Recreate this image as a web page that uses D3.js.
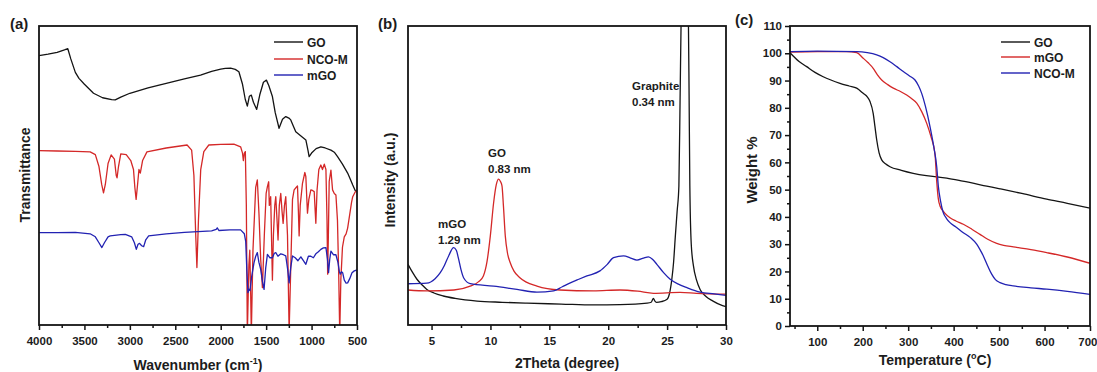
<!DOCTYPE html>
<html>
<head>
<meta charset="utf-8">
<script src="https://cdn.jsdelivr.net/npm/d3@7"></script>
<style>
  body { margin: 0; background: #fff; }
  svg { display: block; }
</style>
</head>
<body>
<div id="chart"></div>
<script>
// ---- (a) FTIR, transmittance in arbitrary units ----
const ftirTicks = [4000, 3500, 3000, 2500, 2000, 1500, 1000, 500];
const ftirMinor = [3750, 3250, 2750, 2250, 1750, 1250, 750];
const ftirGO = [[4000,90.1],[3900,90.6],[3800,91.2],[3720,92.0],[3683,92.4],[3650,89],[3600,84.5],[3560,82.5],[3500,80.5],[3400,77.5],[3300,76.0],[3200,75.4],[3161,75.3],[3100,76.2],[3000,77.5],[2800,79.3],[2600,80.8],[2400,82.3],[2222,83.6],[2100,84.8],[2000,85.6],[1950,85.8],[1891,85.9],[1840,85.5],[1800,84.7],[1760,80.5],[1730,75.5],[1707,73.2],[1685,76.5],[1663,76.9],[1640,74.5],[1604,72.1],[1570,77],[1530,81.2],[1497,81.9],[1470,80],[1431,76.4],[1400,71],[1358,65.8],[1320,68.8],[1284,69.7],[1250,69.2],[1229,68.6],[1200,66.5],[1174,64.6],[1100,62.8],[1063,61.9],[1040,58.5],[1027,56.3],[1000,57.5],[950,59],[898,59.6],[850,59.2],[787,58.5],[750,57.8],[714,56.3],[660,53.8],[603,50.8],[570,48.5],[547,46.8],[520,45],[500,44.5]];
const ftirNCO = [[4000,58.3],[3800,58.2],[3600,58.1],[3437,57.9],[3380,57],[3340,53],[3310,47],[3290,44.2],[3270,47],[3240,54],[3206,56.9],[3170,55.5],[3150,50],[3141,49.2],[3125,53],[3100,57.2],[3040,57],[2990,55],[2960,52],[2945,46],[2931,42],[2915,47],[2900,52],[2885,50.8],[2860,55],[2812,57.9],[2600,59.2],[2370,60.2],[2320,58.5],[2295,50],[2275,30],[2262,19.2],[2245,35],[2220,52],[2186,58],[2131,60.2],[2000,60.4],[1855,60.5],[1781,59.6],[1760,57.5],[1751,55],[1740,57.5],[1729,58],[1718,40],[1707,-3],[1690,20],[1680,25],[1670,10],[1663,-3],[1645,25],[1615,46],[1597,48.5],[1579,37.3],[1560,22],[1541,12.5],[1520,30],[1500,44],[1486,46.3],[1472,47.9],[1465,40],[1450,42.9],[1440,28],[1431,15],[1420,30],[1405,40],[1394,42.9],[1380,35],[1369,28.4],[1355,40],[1339,44],[1325,38],[1313,34],[1298,40],[1284,42.9],[1265,30],[1247,-2],[1230,18],[1210,42],[1192,45.2],[1170,46],[1155,46.5],[1145,38],[1137,29.8],[1125,40],[1100,47.4],[1074,51],[1063,49.6],[1052,42],[1045,37.4],[1030,42],[1008,45.2],[990,45],[971,44.6],[960,38],[953,34],[940,45],[920,52],[898,53.5],[880,52],[860,53.8],[842,52],[830,35],[823,17],[815,30],[806,48],[787,51.8],[769,45.2],[750,44],[732,43.5],[715,35],[700,15],[690,-3],[678,15],[660,26],[640,29.5],[620,30.5],[603,32.4],[580,37],[560,41],[547,42.9],[520,44.5],[500,45]];
const ftirMGO = [[4000,30.9],[3800,30.9],[3600,31.0],[3437,30.5],[3380,29.5],[3340,27.5],[3308,25.9],[3280,27.5],[3240,29.5],[3216,29.8],[3100,30.2],[3050,30.3],[2980,29.5],[2950,27.5],[2929,25.3],[2910,27],[2893,27.3],[2870,26.5],[2848,26.2],[2825,28.5],[2793,29.8],[2600,30.5],[2400,31],[2200,31.3],[2100,31.5],[2050,32],[2038,32.5],[2020,31.6],[1900,31.8],[1781,31.8],[1740,30.5],[1725,28],[1712,18],[1700,10.8],[1690,12],[1678,11.5],[1660,16],[1634,20.8],[1615,23],[1597,24.2],[1580,21],[1560,18.6],[1540,14.5],[1523,11.9],[1505,19],[1486,23.6],[1460,22.5],[1431,22.5],[1410,24],[1394,24.2],[1370,23],[1339,23.8],[1310,23.5],[1284,23.1],[1265,19],[1247,14.1],[1230,19],[1210,23.1],[1180,22.5],[1150,21.5],[1118,22.8],[1090,21.5],[1063,20.3],[1035,23],[1008,23],[980,22.5],[953,23.8],[925,24.5],[898,25.3],[870,25.8],[842,25.9],[825,22],[813,17.5],[800,22],[787,24.7],[760,23.5],[732,23.5],[710,21],[695,18],[684,17],[670,17.8],[658,17.5],[640,15],[620,14],[603,14.1],[580,15.5],[555,17.5],[530,18.1],[500,18.4]];

// ---- (b) XRD, intensity in arbitrary units ----
const xrdTicks = [5, 10, 15, 20, 25, 30];
const xrdMinor = [7.5, 12.5, 17.5, 22.5, 27.5];
const xrdGraphite = [[3,20.3],[3.4,17.5],[3.76,15.3],[4.2,13.4],[4.6,11.9],[5.2,10.7],[6.0,9.7],[7,8.9],[8.86,8.0],[11,7.6],[13.1,7.3],[16,7.0],[18.75,6.7],[21,6.8],[23.3,7.3],[23.65,7.6],[23.84,8.9],[23.95,8.1],[24.1,7.6],[24.5,7.8],[25,8.6],[25.2,10.5],[25.4,15.3],[25.55,21],[25.7,29.8],[25.85,38],[26.0,46.5],[26.1,75],[26.2,105],[26.5,140],[26.8,105],[26.87,75],[26.93,46.5],[27.05,27],[27.24,19.7],[27.5,15],[27.8,11.9],[28.3,9.5],[28.9,8.0],[29.5,6.8],[30,6.1]];
const xrdGO = [[3,11.7],[4.6,11.4],[6.9,11.7],[8.28,13.0],[9.0,14.5],[9.4,16.4],[9.7,21],[9.99,29.8],[10.27,40.9],[10.5,47],[10.69,48.8],[10.85,48],[10.98,46.5],[11.1,40],[11.26,29.8],[11.45,24],[11.68,20.8],[12.0,18],[12.5,15.8],[13.95,13.0],[15.9,11.7],[18.75,11.4],[21,11.7],[22.5,11.3],[23.84,10.6],[26.1,10.9],[27.5,10.6],[30,10.3]];
const xrdMGO = [[3,13.8],[4.6,14],[5.3,15.5],[5.74,17.5],[6.1,20],[6.45,23.1],[6.87,25.9],[7.1,25],[7.3,22],[7.5,18.5],[7.72,15.8],[8.29,13.8],[10.27,13.0],[12.25,11.9],[13.95,11.0],[15.36,11.4],[16.1,12.8],[16.78,14.1],[17.5,15.3],[18.19,16.4],[19.3,18.1],[19.9,20.2],[20.45,22.5],[21.3,23.1],[21.9,22.4],[22.44,21.7],[23.0,22.4],[23.42,22.8],[23.8,21.8],[24.13,20.3],[24.7,17.5],[25.26,15.3],[26.0,13.6],[26.68,12.5],[27.8,11.0],[29,10.4],[30,9.9]];

// ---- (c) TGA, weight % vs temperature ----
const tgaXTicks = [100, 200, 300, 400, 500, 600, 700];
const tgaXMinor = [50, 150, 250, 350, 450, 550, 650];
const tgaYTicks = d3.range(0, 111, 10);
const tgaYMinor = d3.range(5, 110, 10);
const tgaGO = [[40,100.2],[60,97],[76.7,95.1],[95,93],[113,91.4],[130,90.2],[150,89],[170,88],[186.7,87.2],[201,85.3],[210,84],[216,82.3],[223,78],[227,73],[230.8,68.2],[236,63.5],[241.7,60.9],[250,59.5],[260,58.4],[285,57.1],[311,56],[340,55.1],[384.8,54.2],[420,53.1],[472.8,51.3],[502,50.3],[550,48.6],[604.7,46.5],[650,45],[700,43.2]];
const tgaMGO = [[40,100.4],[100,100.6],[164.7,100.6],[186.7,100.2],[201,98.2],[212,96.5],[223,94.5],[232,92.2],[241.7,90.2],[255,88.5],[267.3,87.2],[283,86],[296.7,84.7],[308,83.3],[318.8,81.7],[330,78.5],[340.8,74.3],[350,69.5],[359,63],[362.8,53],[366,47],[370,44],[380,41.5],[392,39.7],[405,38.5],[421.3,37.3],[440,35.5],[458,33.6],[475,31.8],[494.8,30.3],[510,29.6],[531.3,29],[570,28],[604.8,26.9],[650,25.3],[700,23]];
const tgaNCO = [[40,100.6],[100,100.8],[186.7,100.6],[210,100.2],[230.8,99.4],[245,98.4],[260,96.9],[275,95.1],[289.3,93.3],[303,91.7],[315,90.2],[323,88],[329.7,85.3],[338,80.5],[348,73.1],[356,66],[362.8,58.4],[366.3,51.3],[371,46],[377.3,41.5],[384,39.5],[392,37.9],[405,36.3],[421.3,34.2],[437,32.4],[450.7,30],[458,28],[465.3,25.7],[475,22],[483.7,19],[492,17],[502,15.9],[515,15.2],[531,14.7],[570,14],[604.8,13.5],[650,12.7],[700,11.6]];

const BLACK = '#141414';
const RED = '#d42828';
const BLUE = '#2222b2';
const FONT = "'Liberation Sans', Arial, sans-serif";
const TEXT = '#1c1c1c';

const width = 1097;
const height = 372;

const svg = d3
  .select('#chart')
  .append('svg')
  .attr('width', width)
  .attr('height', height)
  .attr('font-family', FONT)
  .attr('font-weight', 'bold');

function makePanel(id, box, xDomain, yDomain) {
  const x = d3.scaleLinear().domain(xDomain).range([box.left, box.right]);
  const y = d3.scaleLinear().domain(yDomain).range([box.bottom, box.top]);
  svg
    .append('clipPath')
    .attr('id', id)
    .append('rect')
    .attr('x', box.left)
    .attr('y', box.top)
    .attr('width', box.right - box.left)
    .attr('height', box.bottom - box.top);
  return { id, box, x, y };
}

function styleAxis(g) {
  g.select('.domain').remove();
  g.attr('font-family', FONT).attr('font-size', 11.5).attr('font-weight', 'bold');
  g.selectAll('line').attr('stroke', BLACK).attr('stroke-width', 1.5);
  g.selectAll('text').attr('fill', TEXT);
}

function drawXAxis(p, major, minor) {
  svg
    .append('g')
    .attr('transform', `translate(0, ${p.box.bottom})`)
    .call(d3.axisBottom(p.x).tickValues(minor).tickSize(3).tickFormat(''))
    .call(styleAxis);
  return svg
    .append('g')
    .attr('transform', `translate(0, ${p.box.bottom})`)
    .call(d3.axisBottom(p.x).tickValues(major).tickSize(5).tickPadding(7).tickFormat(d3.format('d')))
    .call(styleAxis);
}

function drawYAxis(p, major, minor) {
  svg
    .append('g')
    .attr('transform', `translate(${p.box.left}, 0)`)
    .call(d3.axisLeft(p.y).tickValues(minor).tickSize(3).tickFormat(''))
    .call(styleAxis);
  svg
    .append('g')
    .attr('transform', `translate(${p.box.left}, 0)`)
    .call(d3.axisLeft(p.y).tickValues(major).tickSize(5).tickPadding(3).tickFormat(d3.format('d')))
    .call(styleAxis);
}

function drawSeries(p, data, color, curve) {
  const line = d3
    .line()
    .x((d) => p.x(d[0]))
    .y((d) => p.y(d[1]))
    .curve(curve);
  svg
    .append('path')
    .datum(data)
    .attr('clip-path', `url(#${p.id})`)
    .attr('fill', 'none')
    .attr('stroke', color)
    .attr('stroke-width', 1.3)
    .attr('stroke-linejoin', 'round')
    .attr('d', line);
}

function drawFrame(p) {
  svg
    .append('rect')
    .attr('x', p.box.left)
    .attr('y', p.box.top)
    .attr('width', p.box.right - p.box.left)
    .attr('height', p.box.bottom - p.box.top)
    .attr('fill', 'none')
    .attr('stroke', BLACK)
    .attr('stroke-width', 1.8);
}

function drawLegend(x0, entries) {
  entries.forEach((entry) => {
    svg
      .append('line')
      .attr('x1', x0)
      .attr('x2', x0 + 29)
      .attr('y1', entry.y)
      .attr('y2', entry.y)
      .attr('stroke', entry.color)
      .attr('stroke-width', 1.4);
    svg
      .append('text')
      .attr('x', x0 + 33)
      .attr('y', entry.y + 4.5)
      .attr('font-size', 12)
      .attr('fill', TEXT)
      .text(entry.label);
  });
}

function addText(x, y, str, size, anchor) {
  return svg
    .append('text')
    .attr('x', x)
    .attr('y', y)
    .attr('font-size', size)
    .attr('text-anchor', anchor || 'start')
    .attr('fill', TEXT)
    .text(str);
}

function addYTitle(x, y, str, size) {
  return svg
    .append('text')
    .attr('transform', `translate(${x}, ${y}) rotate(-90)`)
    .attr('font-size', size || 14)
    .attr('text-anchor', 'middle')
    .attr('fill', TEXT)
    .text(str);
}

function addXTitleWithSup(x, y, before, sup, after) {
  const t = svg
    .append('text')
    .attr('x', x)
    .attr('y', y)
    .attr('font-size', 14)
    .attr('text-anchor', 'middle')
    .attr('fill', TEXT);
  t.append('tspan').text(before);
  t.append('tspan').attr('dy', -6).attr('font-size', 9).text(sup);
  t.append('tspan').attr('dy', 6).text(after);
  return t;
}

// (a) FTIR
const pa = makePanel('clipA', { left: 39, right: 357, top: 26, bottom: 325 }, [4000, 500], [0, 100]);
drawSeries(pa, ftirGO, BLACK, d3.curveLinear);
drawSeries(pa, ftirNCO, RED, d3.curveLinear);
drawSeries(pa, ftirMGO, BLUE, d3.curveLinear);
drawXAxis(pa, ftirTicks, ftirMinor);
drawFrame(pa);
drawLegend(274, [
  { label: 'GO', color: BLACK, y: 42 },
  { label: 'NCO-M', color: RED, y: 59 },
  { label: 'mGO', color: BLUE, y: 75 },
]);
addText(10, 29, '(a)', 15);
addYTitle(30, 175, 'Transmittance');
addXTitleWithSup(198, 370, 'Wavenumber (cm', '-1', ')');

// (b) XRD
const pb = makePanel('clipB', { left: 408, right: 726, top: 26, bottom: 325 }, [3, 30], [0, 100]);
drawSeries(pb, xrdGraphite, BLACK, d3.curveMonotoneX);
drawSeries(pb, xrdGO, RED, d3.curveMonotoneX);
drawSeries(pb, xrdMGO, BLUE, d3.curveMonotoneX);
drawXAxis(pb, xrdTicks, xrdMinor);
drawFrame(pb);
addText(378, 29, '(b)', 15);
addYTitle(395, 180, 'Intensity (a.u.)');
addText(567, 368, '2Theta (degree)', 14, 'middle');
addText(632, 90, 'Graphite', 11.5);
addText(632, 106, '0.34 nm', 11.5);
addText(488, 157, 'GO', 11.5);
addText(488, 173, '0.83 nm', 11.5);
addText(438, 228, 'mGO', 11.5);
addText(438, 244, '1.29 nm', 11.5);

// (c) TGA
const pc = makePanel('clipC', { left: 790, right: 1090, top: 26, bottom: 326 }, [40, 700], [0, 110]);
drawSeries(pc, tgaGO, BLACK, d3.curveMonotoneX);
drawSeries(pc, tgaMGO, RED, d3.curveMonotoneX);
drawSeries(pc, tgaNCO, BLUE, d3.curveMonotoneX);
const tgaXAxis = drawXAxis(pc, tgaXTicks, tgaXMinor);
// last label sits on the page edge; keep it inside the picture
tgaXAxis
  .selectAll('.tick text')
  .filter((d) => d === 700)
  .attr('text-anchor', 'end')
  .attr('dx', 7);
drawYAxis(pc, tgaYTicks, tgaYMinor);
drawFrame(pc);
drawLegend(1001, [
  { label: 'GO', color: BLACK, y: 42 },
  { label: 'mGO', color: RED, y: 57 },
  { label: 'NCO-M', color: BLUE, y: 73 },
]);
addText(735, 25, '(c)', 15);
addYTitle(757, 170, 'Weight %', 15);
addXTitleWithSup(935, 365, 'Temperature (', 'o', 'C)');
</script>
</body>
</html>
